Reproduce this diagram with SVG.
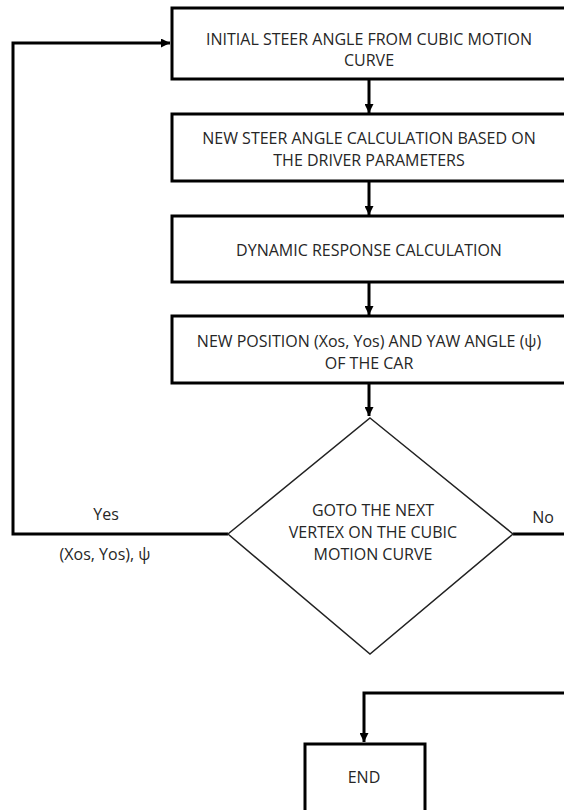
<svg xmlns="http://www.w3.org/2000/svg" width="564" height="810" viewBox="0 0 564 810">
<defs>
<style>
.box{fill:#fff;stroke:#000;stroke-width:3}
.dia{fill:#fff;stroke:#222;stroke-width:1.5}
.t{font-family:"Open Sans","Liberation Sans",sans-serif;font-size:16px;fill:#262626;text-anchor:middle}
.lbl{font-family:"Open Sans","Liberation Sans",sans-serif;font-size:16px;fill:#262626;text-anchor:middle}
.c{fill:none;stroke:#000;stroke-width:3}
</style>
<marker id="ah" viewBox="0 0 10 10" refX="10" refY="5" markerWidth="3" markerHeight="3" orient="auto" markerUnits="strokeWidth">
<path d="M0,0 L10,5 L0,10 z" fill="#000"/>
</marker>
</defs>
<rect width="564" height="810" fill="#fff"/>
<g id="connectors">
<line class="c" x1="369" y1="79" x2="369" y2="113" marker-end="url(#ah)"/>
<line class="c" x1="369" y1="181" x2="369" y2="215" marker-end="url(#ah)"/>
<line class="c" x1="369" y1="282" x2="369" y2="315" marker-end="url(#ah)"/>
<line class="c" x1="369" y1="383" x2="369" y2="416" marker-end="url(#ah)"/>
<polyline class="c" points="228,534 13,534 13,43 170,43" marker-end="url(#ah)"/>
<line class="c" x1="513" y1="534" x2="566" y2="534"/>
<polyline class="c" points="566,693 364,693 364,742" marker-end="url(#ah)"/>
<text class="lbl" x="106" y="520">Yes</text>
<text class="lbl" x="105" y="560">(Xos, Yos), ψ</text>
<text class="lbl" x="543" y="523">No</text>
</g>
<g id="n1">
<rect class="box" x="172" y="8" width="396" height="71"/>
<text class="t" x="369" y="45">INITIAL STEER ANGLE FROM CUBIC MOTION</text>
<text class="t" x="369" y="66">CURVE</text>
</g>
<g id="n2">
<rect class="box" x="172" y="114" width="396" height="67"/>
<text class="t" x="369" y="144">NEW STEER ANGLE CALCULATION BASED ON</text>
<text class="t" x="369" y="166">THE DRIVER PARAMETERS</text>
</g>
<g id="n3">
<rect class="box" x="172" y="216" width="396" height="66"/>
<text class="t" x="369" y="256">DYNAMIC RESPONSE CALCULATION</text>
</g>
<g id="n4">
<rect class="box" x="172" y="316" width="396" height="67"/>
<text class="t" x="369" y="347">NEW POSITION (Xos, Yos) AND YAW ANGLE (ψ)</text>
<text class="t" x="369" y="369">OF THE CAR</text>
</g>
<g id="n5">
<polygon class="dia" points="370,418 513,534 370,654 228,534"/>
<text class="t" x="373" y="516">GOTO THE NEXT</text>
<text class="t" x="373" y="538">VERTEX ON THE CUBIC</text>
<text class="t" x="373" y="560">MOTION CURVE</text>
</g>
<g id="n6">
<rect class="box" x="305" y="744" width="120" height="70"/>
<text class="t" x="364" y="783">END</text>
</g>
</svg>
